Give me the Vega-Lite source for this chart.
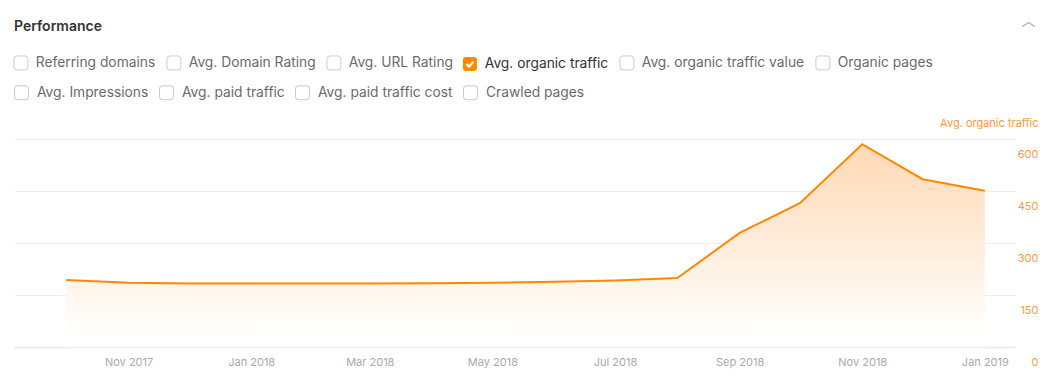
{
  "$schema": "https://vega.github.io/schema/vega-lite/v6.json",
  "width": 1001,
  "height": 208,
  "autosize": {"type": "none"},
  "padding": {"left": 14, "top": 139, "right": 41, "bottom": 35},
  "background": "#ffffff",
  "title": {
    "text": "Performance",
    "anchor": "start",
    "frame": "group",
    "orient": "top",
    "offset": -28,
    "baseline": "middle",
    "font": "Inter",
    "fontSize": 14,
    "fontWeight": 600,
    "color": "#333333"
  },
  "data": {
    "values": [
      {"month": "2017-10-01", "traffic": 193},
      {"month": "2017-11-01", "traffic": 185},
      {"month": "2017-12-01", "traffic": 183},
      {"month": "2018-01-01", "traffic": 183},
      {"month": "2018-02-01", "traffic": 183},
      {"month": "2018-03-01", "traffic": 183},
      {"month": "2018-04-01", "traffic": 184},
      {"month": "2018-05-01", "traffic": 185},
      {"month": "2018-06-01", "traffic": 188},
      {"month": "2018-07-01", "traffic": 192},
      {"month": "2018-08-01", "traffic": 199},
      {"month": "2018-09-01", "traffic": 329},
      {"month": "2018-10-01", "traffic": 415},
      {"month": "2018-11-01", "traffic": 585},
      {"month": "2018-12-01", "traffic": 484},
      {"month": "2019-01-01", "traffic": 451}
    ]
  },
  "encoding": {
    "x": {
      "field": "month",
      "type": "temporal",
      "scale": {
        "type": "utc",
        "domain": [
          {"year": 2017, "month": 9, "date": 5, "utc": true},
          {"year": 2019, "month": 1, "date": 16, "utc": true}
        ]
      }
    },
    "y": {
      "field": "traffic",
      "type": "quantitative",
      "scale": {"domain": [0, 600], "nice": false},
      "axis": {
        "orient": "right",
        "values": [0, 150, 300, 450, 600],
        "grid": true,
        "gridColor": "#eeeeee",
        "gridWidth": 1,
        "domain": false,
        "ticks": false,
        "labelFont": "Inter",
        "labelFontSize": 11,
        "labelColor": "#ff9a3c",
        "labelAlign": "right",
        "labelBaseline": "middle",
        "labelPadding": 23,
        "labelOffset": 15,
        "title": "Avg. organic traffic",
        "titleFont": "Inter",
        "titleFontSize": 11,
        "titleFontWeight": "normal",
        "titleColor": "#ff9a3c",
        "titleAngle": 0,
        "titleAlign": "right",
        "titleBaseline": "middle",
        "titleX": 23,
        "titleY": -16
      }
    }
  },
  "layer": [
    {
      "mark": {
        "type": "area",
        "fill": {
          "gradient": "linear",
          "x1": 0, "y1": 0, "x2": 0, "y2": 1,
          "stops": [
            {"offset": 0, "color": "#ffd9b5"},
            {"offset": 0.95, "color": "#ffffff"},
            {"offset": 1, "color": "#ffffff"}
          ]
        },
        "stroke": null
      },
      "encoding": {
        "x": {
          "field": "month",
          "type": "temporal",
          "axis": {
            "orient": "top",
            "labels": false,
            "ticks": false,
            "domain": false,
            "grid": false,
            "title": "︿",
            "titleFont": "Noto Sans CJK SC",
            "titleFontSize": 14,
            "titleFontWeight": "normal",
            "titleColor": "#999999",
            "titleAngle": 0,
            "titleAlign": "center",
            "titleBaseline": "middle",
            "titleX": 1014,
            "titleY": -119
          }
        }
      }
    },
    {
      "mark": {"type": "point", "filled": false, "color": "#c8c8c8", "opacity": 0, "strokeWidth": 1},
      "encoding": {
        "x": {"field": "month", "type": "temporal", "axis": null},
        "shape": {
          "datum": "Avg. Impressions",
          "type": "nominal",
          "scale": {
            "domain": ["Avg. Impressions", "Avg. paid traffic", "Avg. paid traffic cost", "Crawled pages"],
            "range": [
              "M-1,-0.57Q-1,-1,-0.57,-1L0.57,-1Q1,-1,1,-0.57L1,0.57Q1,1,0.57,1L-0.57,1Q-1,1,-1,0.57Z",
              "M-1,-0.57Q-1,-1,-0.57,-1L0.57,-1Q1,-1,1,-0.57L1,0.57Q1,1,0.57,1L-0.57,1Q-1,1,-1,0.57Z",
              "M-1,-0.57Q-1,-1,-0.57,-1L0.57,-1Q1,-1,1,-0.57L1,0.57Q1,1,0.57,1L-0.57,1Q-1,1,-1,0.57Z",
              "M-1,-0.57Q-1,-1,-0.57,-1L0.57,-1Q1,-1,1,-0.57L1,0.57Q1,1,0.57,1L-0.57,1Q-1,1,-1,0.57Z"
            ]
          },
          "legend": {
            "orient": "none",
            "legendX": 0,
            "legendY": -54,
            "direction": "horizontal",
            "columnPadding": 8,
            "title": null,
            "symbolSize": 196,
            "symbolStrokeWidth": 1,
            "symbolStrokeColor": "#c8c8c8",
            "symbolFillColor": "#ffffff",
            "symbolOpacity": 1,
            "labelFont": "Inter",
            "labelFontSize": 13.8,
            "labelOffset": 8,
            "labelLimit": 400,
            "labelColor": "#6b6b6b"
          }
        }
      }
    },
    {
      "mark": {"type": "line", "strokeWidth": 2, "color": "#ff8800"},
      "encoding": {
        "x": {
          "field": "month",
          "type": "temporal",
          "axis": {
            "orient": "bottom",
            "title": null,
            "format": "%b %Y",
            "tickCount": {"interval": "month", "step": 2},
            "grid": false,
            "ticks": false,
            "domain": true,
            "domainColor": "#eeeeee",
            "domainWidth": 2,
            "labelFont": "Inter",
            "labelFontSize": 11,
            "labelColor": "#aaaaaa",
            "labelPadding": 9,
            "labelBaseline": "top"
          }
        },
        "color": {
          "datum": "Avg. organic traffic",
          "type": "nominal",
          "scale": {
            "domain": ["Referring domains", "Avg. Domain Rating", "Avg. URL Rating", "Avg. organic traffic", "Avg. organic traffic value", "Organic pages"],
            "range": ["#cccccc", "#cccccc", "#cccccc", "#ff8800", "#cccccc", "#cccccc"]
          },
          "legend": {
            "orient": "none",
            "legendX": 0,
            "legendY": -83,
            "direction": "horizontal",
            "columnPadding": 8,
            "title": null,
            "symbolSize": 196,
            "symbolStrokeWidth": 1,
            "labelFont": "Inter",
            "labelFontSize": 13.8,
            "labelOffset": 8,
            "labelLimit": 400,
            "labelColor": "#6b6b6b",
            "encode": {
              "symbols": {
                "update": {
                  "shape": {"signal": "datum.value === 'Avg. organic traffic' ? 'M-1,-0.57Q-1,-1,-0.57,-1L0.57,-1Q1,-1,1,-0.57L1,0.57Q1,1,0.57,1L-0.57,1Q-1,1,-1,0.57Z M-0.394,-0.106L-0.606,0.106L-0.114,0.598L0.612,-0.221L0.388,-0.419L-0.126,0.162Z' : 'M-1,-0.57Q-1,-1,-0.57,-1L0.57,-1Q1,-1,1,-0.57L1,0.57Q1,1,0.57,1L-0.57,1Q-1,1,-1,0.57Z'"},
                  "fill": {"signal": "datum.value === 'Avg. organic traffic' ? '#ff8800' : '#ffffff'"},
                  "stroke": {"signal": "datum.value === 'Avg. organic traffic' ? '#ff8800' : '#c8c8c8'"},
                  "strokeWidth": {"signal": "datum.value === 'Avg. organic traffic' ? 0 : 1"},
                  "strokeDash": {"value": []},
                  "opacity": {"value": 1},
                  "fillOpacity": {"value": 1},
                  "strokeOpacity": {"value": 1}
                }
              },
              "labels": {
                "update": {
                  "fill": {"signal": "datum.value === 'Avg. organic traffic' ? '#333333' : '#6b6b6b'"}
                }
              }
            }
          }
        }
      }
    }
  ],
  "resolve": {"axis": {"x": "independent"}},
  "config": {
    "view": {"stroke": null},
    "font": "Inter"
  }
}
